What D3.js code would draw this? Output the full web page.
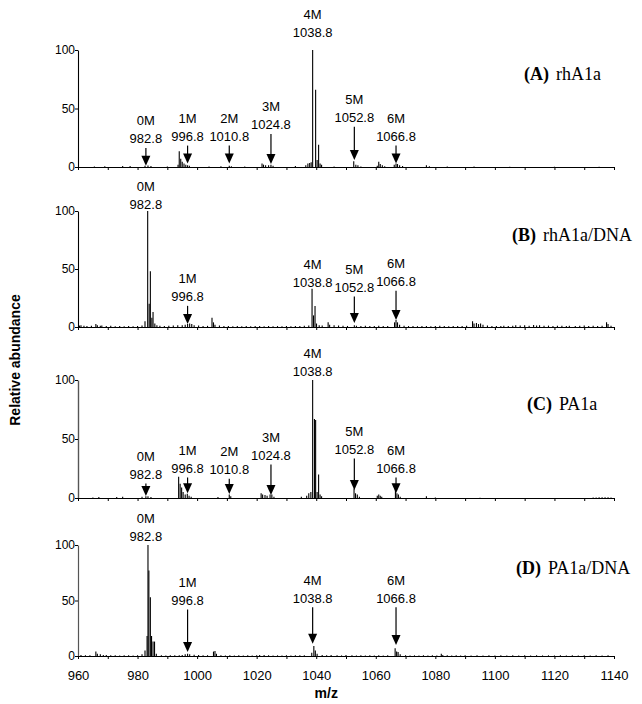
<!DOCTYPE html>
<html>
<head>
<meta charset="utf-8">
<script src="https://cdn.jsdelivr.net/npm/d3@7"></script>
<style>
body{margin:0;background:#fff;}
text{font-family:"Liberation Sans",Arial,sans-serif;}
</style>
</head>
<body>
<svg id="chart" width="642" height="704"></svg>
<script>
// peak lists [m/z, relative abundance]
let peaksA = [[965.5,0.5],[969,0.6],[975,0.8],[977.5,0.8],[982.5,1],[983.5,1.2],[984.5,0.8],
 [990,0.5],[993.6,2],[994.0,13.5],[994.5,7],[995.0,4.5],[995.6,3],[996.2,2],[996.8,1.5],[997.4,1],
 [1004,0.5],[1008,0.6],[1010.8,1],[1011.5,0.6],[1016,0.5],
 [1021.8,3],[1022.3,2],[1023,1.5],[1024,1.5],[1024.8,2],[1025.5,1],
 [1033,0.8],[1036.5,1.5],[1037.2,3],[1037.8,3.5],[1038.3,4],[1038.8,100],[1039.8,66],[1040.3,6],[1040.8,19],[1041.3,3],[1041.8,2],
 [1046,0.5],[1052.6,5],[1053.3,2],[1054,1.5],[1055,0.5],
 [1060.5,1],[1061,4.5],[1061.5,2.5],[1062.2,1.5],[1063,0.6],
 [1066.2,2],[1066.8,3],[1067.3,2.5],[1068,1.5],[1069,0.8],
 [1077,1.5],[1078,0.6],[1084,0.5],[1093,0.4],[1105,0.3],[1120,0.3],[1135,0.3]];

let peaksB = [[961,1.5],[962,1],[966,2.5],[966.5,1.5],[967.5,1],[981.5,1.2],[982.5,5],[983.4,100],[983.9,20],[984.3,48],[984.8,8],[985.2,13],[985.8,3],[986.5,1.5],
 [995,1.5],[996,2],[996.8,2.5],[997.5,3],[998.2,2.5],[999,1.5],
 [1005,8],[1005.5,4],[1006,2],
 [1038.6,33],[1039.1,10],[1039.6,18],[1040.1,3],[1041,1.5],
 [1044,4],[1044.5,2],[1046,1.5],[1052.8,1.5],[1053.5,1],
 [1066.3,4],[1066.8,6],[1067.3,4],[1068,2],
 [1092.5,5],[1093,3],[1093.8,3.5],[1094.5,2.5],[1095.2,3],[1096,2],
 [1103,1],[1107,1.5],[1110,1.5],[1113,1.8],[1115,1.5],[1118,1.2],[1121,1],[1125,1],[1130,1.2],[1137.5,4],[1138,2.5]];

let grassB = [[960.5,1.2],[963,0.8],[964.5,1],[968,1.2],[969.5,0.8],[971,1],[972.5,0.7],[974,0.9],[975.5,0.6],[977,0.8],[978.5,0.7],[980,0.9],
 [987.5,1],[989,0.8],[990.5,1],[992,1.2],[993.5,1.5],[1000.5,1.2],[1002,0.9],[1003.5,1],[1007.5,1.2],[1009,0.8],[1010.5,0.9],[1012,0.7],
 [1013.5,0.8],[1015,0.6],[1016.5,0.8],[1018,0.7],[1019.5,0.8],[1021,0.9],[1022.5,0.7],[1024,0.8],[1025.5,0.6],[1027,0.8],[1028.5,0.7],
 [1030,0.9],[1031.5,0.7],[1033,0.8],[1034.5,0.9],[1036,1],[1037.5,1.2],[1042,1.2],[1047.5,1.2],[1049,1],[1050.5,0.9],[1055,0.8],
 [1056.5,1],[1058,0.8],[1059.5,0.9],[1061,1],[1062.5,0.8],[1064,0.9],[1069.5,1],[1071,0.8],[1072.5,0.9],[1074,0.7],[1075.5,0.8],
 [1077,0.9],[1078.5,0.7],[1080,0.8],[1081.5,1],[1083,0.8],[1084.5,0.7],[1086,0.8],[1087.5,0.9],[1089,0.8],[1090.5,1],[1097.5,1.2],
 [1099,0.9],[1100.5,0.8],[1102,0.9],[1104.5,0.8],[1106,1],[1108.5,1.2],[1111.5,1],[1114,1.2],[1116.5,1],[1119.5,0.9],[1122.5,1.1],
 [1124,0.8],[1127,0.9],[1128.5,1],[1131.5,0.8],[1133,1],[1134.5,0.9],[1136,1],[1139,1]];

let peaksC = [[965,0.5],[967,0.8],[973,0.8],[975,1],[981.5,1],[982.8,1.5],[983.5,1.5],[984.5,0.8],
 [993.8,18],[994.3,12],[994.8,9],[995.3,5],[996,3],[996.7,3.5],[997.3,2],[998,1],
 [1007,0.8],[1010.8,3],[1011.3,1.5],
 [1021.5,4],[1022,3],[1022.8,2.5],[1023.5,2],[1024.5,3],[1025.1,3],[1025.8,1],
 [1035,1],[1036.8,2],[1037.5,4],[1038.2,5],[1038.8,100],[1039.4,67],[1039.8,66],[1040.3,5],[1040.8,20],[1041.3,3],[1041.8,1.5],
 [1052.7,8],[1053.2,4],[1053.8,3],[1054.5,1],
 [1060.5,2],[1061,3],[1061.5,2],[1062,1],
 [1066.6,8],[1067.1,4],[1067.6,3],[1068.2,1],
 [1077,1.5],[1080,0.5],[1095,0.3],[1133,0.5],[1134,0.5],[1135,0.6],[1136,0.6],[1137,0.6],[1138,0.6],[1139,0.5]];

let peaksD = [[966,4],[966.5,2],[967.5,1.5],[968.5,1],[981.5,1.5],[982.5,5],[983.2,18],[983.5,100],[983.8,77],[984.3,53],[984.7,18],[985.2,13],[985.7,13],[986.3,2],
 [995,1],[996,1.5],[996.8,2],[997.5,1.5],[999,1.2],
 [1005.5,4],[1006,4.5],[1006.5,2],[1021,0.8],
 [1038.5,3],[1039.2,9],[1039.7,5],[1040.3,2],[1045,1],[1050,1],
 [1066.5,7],[1067,4],[1067.5,3.5],[1068.2,1.5],[1082,2],[1082.5,1]];

let grassD = [[961,0.8],[962.5,0.6],[964,0.7],[969.5,0.8],[971,0.6],[972.5,0.7],[974,0.5],[975.5,0.7],[977,0.6],[978.5,0.5],[980,0.7],
 [988,0.7],[989.5,0.5],[991,0.6],[992.5,0.7],[994,0.6],[1000.5,0.8],[1002,0.6],[1003.5,0.7],[1008,0.7],[1009.5,0.5],[1011,0.6],
 [1012.5,0.5],[1014,0.6],[1015.5,0.5],[1017,0.6],[1018.5,0.5],[1020,0.7],[1022.5,0.8],[1024,0.6],[1025.5,0.5],[1027,0.6],[1028.5,0.5],
 [1030,0.6],[1031.5,0.5],[1033,0.6],[1034.5,0.7],[1036,0.6],[1042,0.8],[1043.5,0.6],[1047,0.7],[1048.5,0.5],[1052,0.6],[1053.5,0.5],
 [1055,0.6],[1056.5,0.5],[1058,0.6],[1059.5,0.5],[1061,0.7],[1062.5,0.5],[1064,0.6],[1070,0.7],[1071.5,0.5],[1073,0.6],[1074.5,0.5],
 [1076,0.6],[1077.5,0.5],[1079,0.6],[1080.5,0.5],[1084,0.6],[1085.5,0.5],[1087,0.6],[1088.5,0.5],[1090,0.6],[1092,0.5],[1094,0.6],
 [1096,0.5],[1098,0.6],[1100,0.5],[1102,0.6],[1104,0.5],[1106,0.6],[1108,0.5],[1110,0.6],[1112,0.5],[1114,0.6],[1116,0.5],[1118,0.6],
 [1120,0.5],[1122,0.6],[1124,0.5],[1126,0.6],[1128,0.5],[1130,0.6],[1132,0.5],[1134,0.6],[1136,0.5],[1138,0.6]];

// annotations: name and m/z
let annNamesA = ["0M","1M","2M","3M","4M","5M","6M"];
let annMzA = [982.8,996.8,1010.8,1024.8,1038.8,1052.8,1066.8];
let annNamesB = ["0M","1M","4M","5M","6M"];
let annMzB = [982.8,996.8,1038.8,1052.8,1066.8];
let annNamesC = ["0M","1M","2M","3M","4M","5M","6M"];
let annMzC = [982.8,996.8,1010.8,1024.8,1038.8,1052.8,1066.8];
let annNamesD = ["0M","1M","4M","6M"];
let annMzD = [982.8,996.8,1038.8,1066.8];

let yTicks = [0,50,100];
let xLabels = [960,980,1000,1020,1040,1060,1080,1100,1120,1140];
let xMinor = [960,970,980,990,1000,1010,1020,1030,1040,1050,1060,1070,1080,1090,1100,1110,1120,1130,1140];

// label placement (abundance level of the m/z text, arrow tip level; null = no arrow)
let panels = [
 {tag:"(A)", name:"rhA1a", peaks:peaksA, names:annNamesA, mz:annMzA,
  lev:[24,26,26,36,115,42,26], tip:[1,3,3,2.5,null,6,3], y0:167, y1:50, tx:524, ty:80, ax:"#000", aw:1.1},
 {tag:"(B)", name:"rhA1a/DNA", peaks:peaksB.concat(grassB), names:annNamesB, mz:annMzB,
  lev:[106,26,38,34,39], tip:[null,2.5,null,3.5,6], y0:327, y1:211, tx:512, ty:241, ax:"#000", aw:1.1},
 {tag:"(C)", name:"PA1a", peaks:peaksC, names:annNamesC, mz:annMzC,
  lev:[20,25,24,36,107,41,25], tip:[1.7,4,3.4,2.5,null,6.8,4], y0:498, y1:380, tx:527, ty:410, ax:"#555", aw:1.4},
 {tag:"(D)", name:"PA1a/DNA", peaks:peaksD.concat(grassD), names:annNamesD, mz:annMzD,
  lev:[108,50,52,52], tip:[null,3.5,11,10], y0:656, y1:545, tx:516, ty:574, ax:"#555", aw:1.2}
];

let svg = d3.select("#chart");
let x = d3.scaleLinear().domain([960,1140]).range([78,614]);

panels.forEach((p,pi)=>{
  let y = d3.scaleLinear().domain([0,100]).range([p.y0,p.y1]);
  let g = svg.append("g");

  // peaks
  g.selectAll(".pk").data(p.peaks).enter().append("line")
   .attr("x1",d=>x(d[0])).attr("x2",d=>x(d[0]))
   .attr("y1",y(0)).attr("y2",d=>y(d[1]))
   .attr("stroke","#000").attr("stroke-width",1.1);

  // y axis
  let ya = g.append("g").attr("transform","translate("+x(960)+",0)")
   .call(d3.axisLeft(y).tickValues(yTicks).tickSize(3).tickSizeOuter(0).tickPadding(0));
  ya.select(".domain").attr("stroke",p.ax).attr("stroke-width",p.aw);
  ya.selectAll(".tick line").attr("stroke","#000");
  ya.selectAll("text").style("font","12px 'Liberation Sans', Arial, sans-serif").attr("fill","#000");

  // x baseline
  let xa = g.append("g").attr("transform","translate(0,"+y(0)+")")
   .call(d3.axisBottom(x).tickValues(xMinor).tickSize(3).tickSizeOuter(0).tickFormat(""));
  xa.select(".domain").attr("stroke","#000").attr("stroke-width",1.1);
  if(pi==3){
    let xl = g.append("g").attr("transform","translate(0,"+y(0)+")")
     .call(d3.axisBottom(x).tickValues(xLabels).tickSize(0).tickPadding(15).tickFormat(d3.format("d")));
    xl.select(".domain").remove();
    xl.selectAll("text").style("font","13px 'Liberation Sans', Arial, sans-serif").attr("fill","#000");
  }

  // annotations
  p.names.forEach((nm,i)=>{
    let cx = x(p.mz[i]), cy = y(p.lev[i]);
    g.append("text").attr("x",cx).attr("y",cy-18).attr("dy","0.35em").attr("text-anchor","middle")
     .style("font-size","13px").text(nm);
    g.append("text").attr("x",cx).attr("y",cy).attr("dy","0.35em").attr("text-anchor","middle")
     .style("font-size","13px").text(p.mz[i].toFixed(1));
    if(p.tip[i]!=null){
      let ty = y(p.tip[i]);
      g.append("line").attr("x1",cx).attr("x2",cx).attr("y1",cy+9).attr("y2",ty-9)
       .attr("stroke","#000").attr("stroke-width",1.2);
      g.append("path").attr("d",d3.line()([[cx-4.5,ty-10],[cx+4.5,ty-10],[cx,ty]])+"Z").attr("fill","#000");
    }
  });

  // panel title
  let t = g.append("text").attr("x",p.tx).attr("y",p.ty)
   .style("font-family","'Liberation Serif','Times New Roman',serif").style("font-size","18px");
  t.append("tspan").style("font-weight","bold").text(p.tag);
  t.append("tspan").attr("dx",7).text(p.name);
});

svg.append("text").attr("transform","translate(20,360) rotate(-90)").attr("text-anchor","middle")
 .style("font-weight","bold").style("font-size","14px").text("Relative abundance");
svg.append("text").attr("x",x(1040)+10).attr("y",698).attr("text-anchor","middle")
 .style("font-weight","bold").style("font-size","14px").text("m/z");
</script>
</body>
</html>
